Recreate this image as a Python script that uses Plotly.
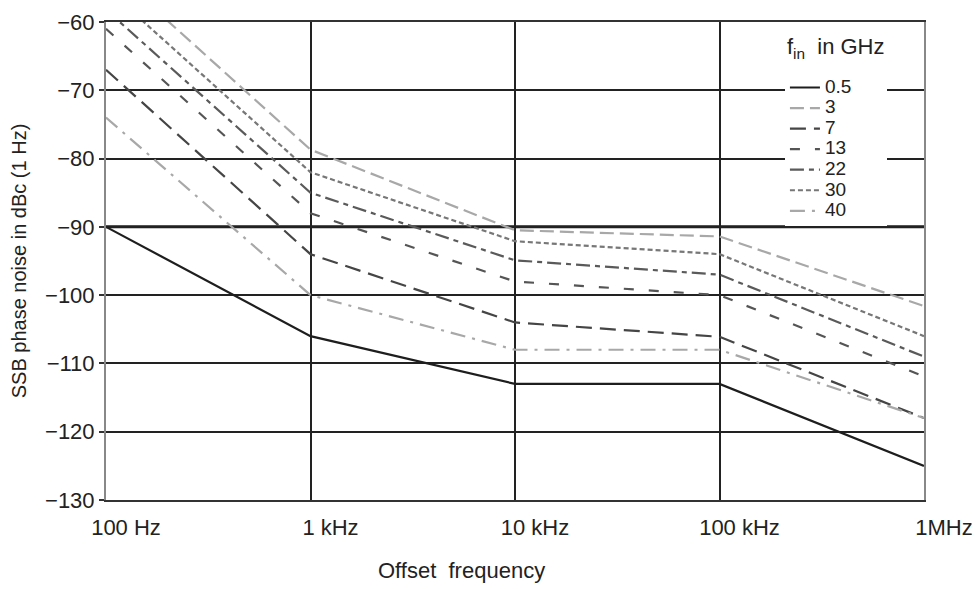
import plotly.graph_objects as go

# ---- data ----
freq = [100, 1000, 10000, 100000, 1000000]
x_tickvals = [100, 1000, 10000, 100000, 1000000]
x_ticktext = ["100 Hz", "1 kHz", "10 kHz", "100 kHz", "1MHz"]

series_names = ["0.5", "3", "7", "13", "22", "30", "40"]
noise_05 = [-90, -106, -113, -113, -125]
noise_3 = [-51.7, -78.7, -90.5, -91.4, -101.6]
noise_7 = [-67, -94, -104, -106.1, -118]
noise_13 = [-61, -88, -98, -100, -111.9]
noise_22 = [-58.2, -85, -94.9, -97, -109]
noise_30 = [-55, -82, -92.1, -94, -106]
noise_40 = [-74, -100, -108, -108, -118]

styles = {
    "0.5": dict(color="#1e1e1e", dash="solid"),
    "3": dict(color="#a8a8a8", dash="14px,6px"),
    "7": dict(color="#454545", dash="16px,8px"),
    "13": dict(color="#555555", dash="10px,15px"),
    "22": dict(color="#5a5a5a", dash="14px,5px,5px,5px"),
    "30": dict(color="#777777", dash="5px,3px"),
    "40": dict(color="#a8a8a8", dash="15px,7px,3px,7px"),
}
values = [noise_05, noise_3, noise_7, noise_13, noise_22, noise_30, noise_40]

FONT = "Liberation Sans, Arial, sans-serif"
TXT = "#222222"

fig = go.Figure()
for name, vals in zip(series_names, values):
    st = styles[name]
    fig.add_trace(go.Scatter(
        x=freq, y=vals, mode="lines",
        name=f"<span style='font-size:19px'>{name}</span>",
        line=dict(color=st["color"], dash=st["dash"], width=2.2),
    ))

fig.update_layout(
    width=978, height=589,
    margin=dict(l=106, r=54, t=22, b=89, autoexpand=False),
    paper_bgcolor="white", plot_bgcolor="white",
    font=dict(family=FONT, color=TXT, size=22),
    showlegend=True,
    legend=dict(
        x=0.83, xanchor="left", y=0.97, yanchor="top",
        bgcolor="white", borderwidth=0,
        font=dict(family=FONT, size=13.5, color=TXT),
        title=dict(text="<span style='font-size:22px'>f<sub>in</sub>  in GHz</span><br> ",
                   font=dict(family=FONT, size=13.8, color=TXT)),
        tracegroupgap=0,
        entrywidth=60, entrywidthmode="pixels",
    ),
    annotations=[dict(
        text="Offset  frequency", xref="paper", yref="paper",
        x=0.434, y=-0.148, xanchor="center", yanchor="middle",
        showarrow=False, font=dict(family=FONT, size=22, color=TXT),
    )],
)

fig.update_xaxes(
    type="log", range=[2, 6], automargin=False,
    tickvals=x_tickvals, ticktext=x_ticktext,
    tickfont=dict(family=FONT, size=22, color=TXT),
    ticklabelshift=20, ticklabelstandoff=7, ticks="",
    showgrid=True, gridcolor="#222222", gridwidth=1.5,
    showline=True, linecolor="#333333", linewidth=1.5, mirror=True,
    zeroline=False,
)
fig.update_yaxes(
    range=[-130, -60], dtick=10, tick0=-130, automargin=False,
    tickfont=dict(family=FONT, size=22, color=TXT),
    ticks="outside", ticklen=5, tickcolor="#333333", tickwidth=1.5,
    showgrid=True, gridcolor="#222222", gridwidth=1.5,
    showline=True, linecolor="#888888", linewidth=2, mirror=True,
    title=dict(text="SSB phase noise in dBc (1 Hz)", font=dict(family=FONT, size=20, color=TXT), standoff=13),
    zeroline=False,
)

fig.add_shape(type="line", xref="paper", yref="y", x0=0, x1=1, y0=-90, y1=-90,
              line=dict(color="#1a1a1a", width=3), layer="below")
fig.add_shape(type="line", xref="x", yref="paper", x0=4, x1=4, y0=0, y1=1,
              line=dict(color="#1a1a1a", width=3), layer="below")

fig.write_html(
    "out.html",
    config={"displayModeBar": False},
    post_script="document.body.style.margin='0';document.body.style.overflow='hidden';",
)
